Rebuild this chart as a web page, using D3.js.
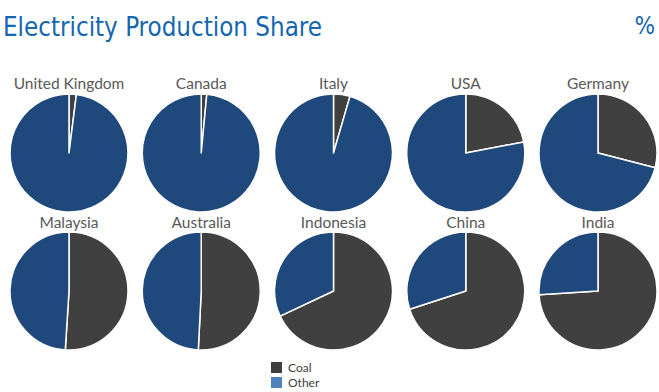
<!DOCTYPE html>
<html>
<head>
<meta charset="utf-8">
<script src="https://cdn.jsdelivr.net/npm/d3@7"></script>
<style>
  html, body { margin: 0; padding: 0; background: #fff; }
  svg { display: block; }
</style>
</head>
<body>
<div id="chart"></div>
<script>
// Data (share of electricity production, %)
const countries = ["United Kingdom", "Canada", "Italy", "USA", "Germany",
                   "Malaysia", "Australia", "Indonesia", "China", "India"];
const coalShare  = [2, 1.5, 4.5, 22, 29, 51, 50.8, 68, 70, 74];
const otherShare = [98, 98.5, 95.5, 78, 71, 49, 49.2, 32, 30, 26];
const seriesNames = ["Coal", "Other"];

const WIDTH = 659, HEIGHT = 392;
const RADIUS = 59;
const COLS = 5;

const sliceColor = d3.scaleOrdinal().domain(seriesNames).range(["#404040", "#1f497d"]);
const legendColor = d3.scaleOrdinal().domain(seriesNames).range(["#404040", "#4f81bd"]);

const svg = d3.select("#chart").append("svg")
  .attr("width", WIDTH)
  .attr("height", HEIGHT);

// Title and unit
svg.append("text")
  .attr("x", 3).attr("y", 36)
  .attr("textLength", 319).attr("lengthAdjust", "spacingAndGlyphs")
  .style("font-family", "'Liberation Sans Narrow', 'DejaVu Sans Condensed', 'Noto Sans', sans-serif")
  .style("font-size", "26px")
  .style("fill", "#1466b0")
  .text("Electricity Production Share");

svg.append("text")
  .attr("x", 655).attr("y", 34)
  .attr("text-anchor", "end")
  .style("font-family", "'Liberation Sans Narrow', 'DejaVu Sans Condensed', sans-serif")
  .style("font-size", "24px")
  .style("fill", "#1466b0")
  .text("%");

// Grid positions
const xPos = d3.scalePoint().domain(d3.range(COLS)).range([69, 598]);
const yPos = d3.scalePoint().domain([0, 1]).range([153, 291]);

const pie = d3.pie().sort(null).value(d => d.value);
const arc = d3.arc().innerRadius(0).outerRadius(RADIUS);

const cells = svg.selectAll("g.cell")
  .data(countries.map((name, i) => ({
    name: name,
    col: i % COLS,
    row: Math.floor(i / COLS),
    parts: [
      {series: "Coal", value: coalShare[i]},
      {series: "Other", value: otherShare[i]}
    ]
  })))
  .enter().append("g")
    .attr("class", "cell")
    .attr("transform", d => `translate(${xPos(d.col)},${yPos(d.row)})`);

cells.selectAll("path")
  .data(d => pie(d.parts))
  .enter().append("path")
    .attr("d", arc)
    .style("fill", d => sliceColor(d.data.series))
    .style("stroke", "#fff")
    .style("stroke-width", 1.5)
    .style("stroke-linejoin", "round");

cells.append("text")
  .attr("x", 0)
  .attr("y", d => d.row === 0 ? -64 : -63)
  .attr("text-anchor", "middle")
  .style("font-family", "Lato, 'Open Sans', sans-serif")
  .style("font-size", "15.5px")
  .style("fill", "#595959")
  .text(d => d.name);

// Legend (nudged up slightly so "Other" stays inside the frame)
const legend = svg.selectAll("g.legend")
  .data(seriesNames)
  .enter().append("g")
    .attr("class", "legend")
    .attr("transform", (d, i) => `translate(271,${362 + i * 15})`);

legend.append("rect")
  .attr("width", 11).attr("height", 11)
  .style("fill", d => legendColor(d));

legend.append("text")
  .attr("x", 17).attr("y", 10)
  .style("font-family", "Lato, 'Open Sans', sans-serif")
  .style("font-size", "12px")
  .style("fill", "#404040")
  .text(d => d);
</script>
</body>
</html>
